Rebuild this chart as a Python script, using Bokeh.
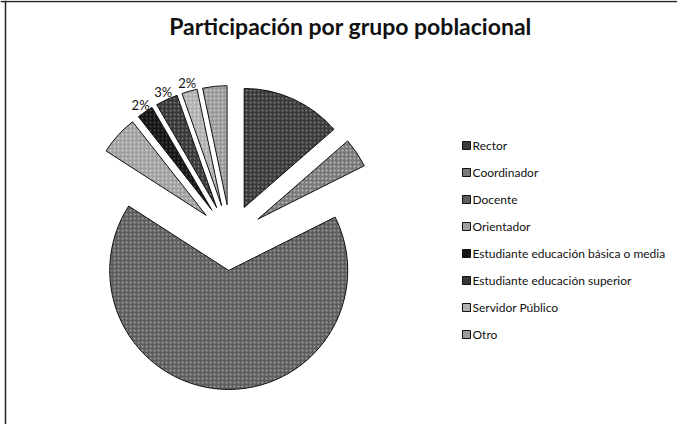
import numpy as np
from bokeh.plotting import figure
from bokeh.models import Range1d, Span, ColumnDataSource
from bokeh.core.properties import value
from bokeh.embed import file_html
from bokeh.resources import INLINE

# ---- data ----
title = "Participación por grupo poblacional"
categories = ["Rector", "Coordinador", "Docente", "Orientador",
              "Estudiante educación básica o media",
              "Estudiante educación superior",
              "Servidor Público", "Otro"]
shares = [13.6, 4.0, 66.5, 5.3, 2.2, 3.0, 2.1, 3.3]
show_label = [False, False, False, False, True, True, True, False]

# ---- styles ----
fills = ["#3a3a3a", "#7a7a7a", "#5e5e5e", "#a0a0a0",
         "#151515", "#383838", "#b0b0b0", "#9a9a9a"]
hatches = ["dot"] * 8
hatch_cols = ["#bbbbbb", "#ffffff", "#e0e0e0", "#ffffff",
              "#777777", "#bbbbbb", "#ffffff", "#ffffff"]
FONT = "Lato"

W, H = 677, 424
p = figure(width=W, height=H, x_range=Range1d(8, 8 + W),
           y_range=Range1d(-(8 + H), -8), x_axis_type=None, y_axis_type=None,
           output_backend="svg", toolbar_location=None, min_border=0)
p.grid.visible = False
p.outline_line_color = None
p.background_fill_color = "white"

# chart border (left and top, as in the scan)
p.add_layout(Span(location=-9, dimension="width", line_color="#222222", line_width=1.5))
p.add_layout(Span(location=13, dimension="height", line_color="#222222", line_width=1.5))

# ---- exploded pie ----
cx, cy = 238, -245
R, d = 119, 33
frac = np.array(shares) / sum(shares)
ends = np.cumsum(frac)
starts = ends - frac
a_hi = np.pi / 2 - 2 * np.pi * starts
a_lo = np.pi / 2 - 2 * np.pi * ends
mid = (a_hi + a_lo) / 2

src = ColumnDataSource(dict(
    x=cx + d * np.cos(mid), y=cy + d * np.sin(mid),
    a0=a_lo, a1=a_hi, fill=fills, hatch=hatches, hc=hatch_cols))
p.wedge(x="x", y="y", radius=R, start_angle="a0", end_angle="a1",
        source=src, fill_color="fill", line_color="#111111", line_width=1,
        hatch_pattern="hatch", hatch_color="hc", hatch_scale=4,
        hatch_alpha=0.55, hatch_weight=1)

# percentage labels
lab_r = 160
idx = [i for i, s in enumerate(show_label) if s]
p.text(x=[cx + lab_r * np.cos(mid[i]) for i in idx],
       y=[cy + lab_r * np.sin(mid[i]) for i in idx],
       text=[f"{round(frac[i] * 100):.0f}%" for i in idx],
       text_font=value(FONT), text_font_size="13px", text_color="#111111",
       text_align="center", text_baseline="middle")

# ---- title ----
p.text(x=[358], y=[-33], text=[title], text_font=value(FONT),
       text_font_size="23px", text_font_style="bold", text_color="#111111",
       text_align="center", text_baseline="middle")

# ---- legend ----
lx, ly0, dy = 474, 153, 27
ly = [-(ly0 + dy * i) for i in range(len(categories))]
p.rect(x=[lx] * len(categories), y=ly, width=8, height=8,
       width_units="screen", height_units="screen",
       fill_color=fills, line_color="#111111", line_width=1)
p.text(x=[lx + 6] * len(categories), y=ly, text=categories,
       text_font=value(FONT), text_font_size="12px", text_color="#111111",
       text_align="left", text_baseline="middle")

open("out.html", "w").write(file_html(p, INLINE))
